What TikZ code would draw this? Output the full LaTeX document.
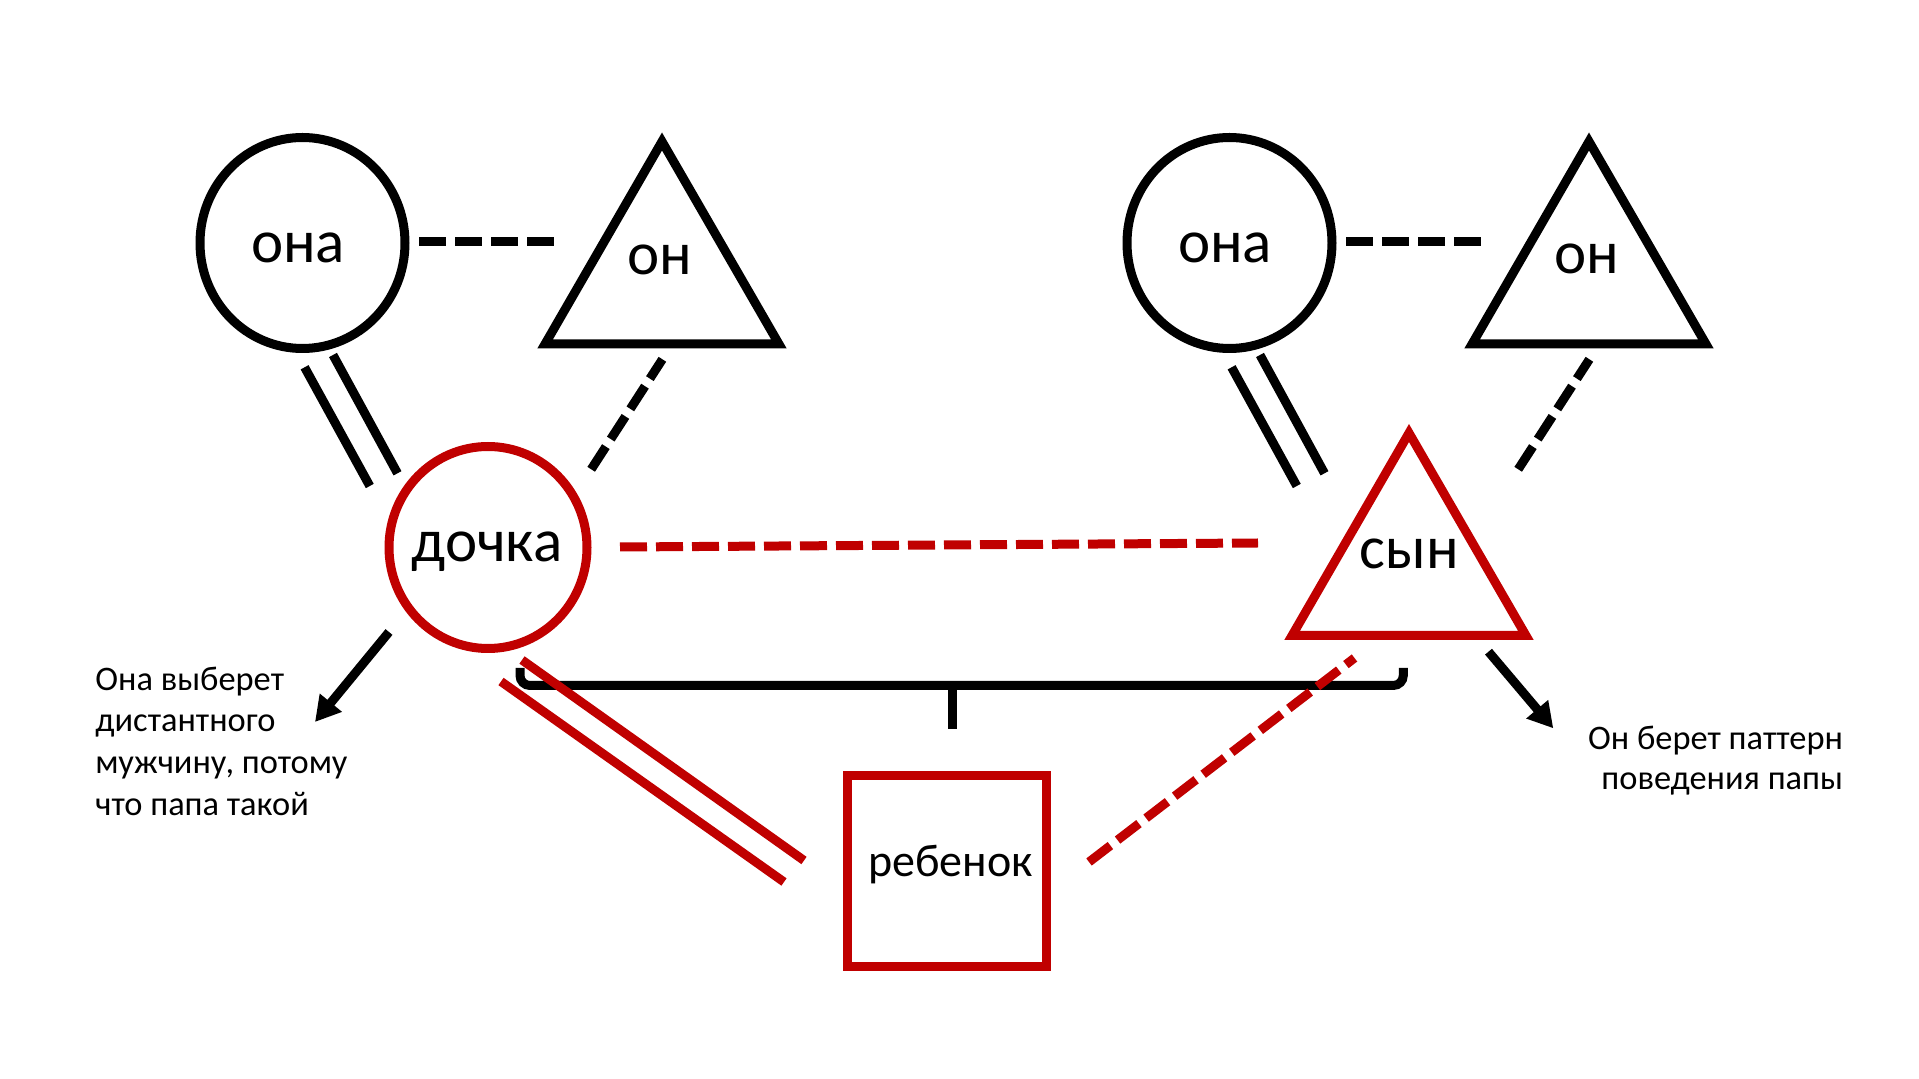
\documentclass[tikz,border=0pt]{standalone}
\usepackage{fontspec}
\setmainfont{Carlito}
\usetikzlibrary{shapes.geometric,arrows.meta}
\definecolor{pptred}{HTML}{C00000}
\begin{document}
\begin{tikzpicture}[x=0.5pt,y=-0.5pt,
  lw/.style={line width=4.5pt},
  shapebox/.style={draw, lw, inner sep=0pt, outer sep=0pt},
  tri/.style={shapebox, regular polygon, regular polygon sides=3, minimum size=135pt},
  oval/.style={shapebox, ellipse},
  dashln/.style={lw, dash pattern=on 13.5pt off 4.5pt},
  big/.style={inner sep=0pt, anchor=base, font=\fontsize{30.5pt}{36pt}\selectfont},
  small/.style={inner sep=0pt, font=\fontsize{17.2pt}{20pt}\selectfont},
  arr/.style={lw, -{Triangle[length=12.5pt,width=13.5pt]}},
]
\fill[white] (0,0) rectangle (1919,1079);
\useasboundingbox (0,0) rectangle (1919,1079);

% shapes
\node[oval, minimum width=102.5pt, minimum height=105.5pt] (ona1) at (302.5,243) {};
\node[tri] (on1) at (662,276.5) {};
\node[oval, minimum width=102.5pt, minimum height=105.5pt] (ona2) at (1229.5,243) {};
\node[tri] (on2) at (1589,276.5) {};
\node[oval, draw=pptred, minimum width=99pt, minimum height=101pt] (doch) at (488,547.5) {};
\node[tri, draw=pptred] (syn) at (1409,568) {};
\node[shapebox, draw=pptred, minimum width=99.5pt, minimum height=95.5pt] (reb) at (947,871) {};

% connector end points
\coordinate (a1) at (419,242);   \coordinate (b1) at (554.5,242);
\coordinate (a2) at (1346,242);  \coordinate (b2) at (1481.5,242);
\coordinate (p1s) at (304.6,367.3); \coordinate (p1e) at (369.8,486);
\coordinate (q1s) at (333,355);     \coordinate (q1e) at (397.5,473.3);
\coordinate (p2s) at (1231.6,367.3); \coordinate (p2e) at (1296.8,486);
\coordinate (q2s) at (1260,355);     \coordinate (q2e) at (1324.5,473.3);
\coordinate (h1s) at (591.2,469.3); \coordinate (h1e) at (662.4,359.3);
\coordinate (h2s) at (1518.2,469.3); \coordinate (h2e) at (1589.4,359.3);
\coordinate (rs) at (620,547); \coordinate (re) at (1258,543);
\coordinate (ra1) at (522,660); \coordinate (ra2) at (804,860.5);
\coordinate (rb1) at (501,681.5); \coordinate (rb2) at (784,882);
\coordinate (rd1) at (1089,862); \coordinate (rd2) at (1354.5,658);
\coordinate (brL) at (520,668); \coordinate (brLc) at (520,685.5);
\coordinate (brRc) at (1403.3,685.5); \coordinate (brR) at (1403.3,668);
\coordinate (stT) at (952,685.5); \coordinate (stB) at (952,729);
\coordinate (ar1s) at (389,632); \coordinate (ar1e) at (315,722);
\coordinate (ar2s) at (1488.5,651.7); \coordinate (ar2e) at (1553.3,728.3);

% black connectors
\draw[dashln] (a1) -- (b1);
\draw[dashln] (a2) -- (b2);
\draw[lw] (p1s) -- (p1e);
\draw[lw] (q1s) -- (q1e);
\draw[lw] (p2s) -- (p2e);
\draw[lw] (q2s) -- (q2e);
\draw[dashln] (h1s) -- (h1e);
\draw[dashln] (h2s) -- (h2e);
\draw[lw, rounded corners=5pt] (brL) -- (brLc) -- (brRc) -- (brR);
\draw[lw] (stT) -- (stB);

% red connectors
\draw[dashln, pptred] (rs) -- (re);
\draw[lw, pptred] (ra1) -- (ra2);
\draw[lw, pptred] (rb1) -- (rb2);
\draw[dashln, pptred] (rd1) -- (rd2);

% arrows
\draw[arr] (ar1s) -- (ar1e);
\draw[arr] (ar2s) -- (ar2e);

% labels
\node[big] (t1) at (298,262.5) {она};
\node[big] (t2) at (660,275) {он};
\node[big] (t3) at (1225,262.5) {она};
\node[big] (t4) at (1587,274) {он};
\node[big] (t5) at (487,562) {дочка};
\node[big] (t6) at (1409.3,568.3) {сын};
\node[big, font=\fontsize{23pt}{28pt}\selectfont] (t7) at (950.7,876.7) {ребенок};

\node[small, anchor=base west] (l1) at (95,690.4) {Она выберет};
\node[small, anchor=base west] (l2) at (95,732) {дистантного};
\node[small, anchor=base west] (l3) at (95,773.6) {мужчину, потому};
\node[small, anchor=base west] (l4) at (95,815.2) {что папа такой};
\node[small, anchor=base east] (r1) at (1843.3,749.5) {Он берет паттерн};
\node[small, anchor=base east] (r2) at (1843.3,790) {поведения папы};
\end{tikzpicture}
\end{document}
